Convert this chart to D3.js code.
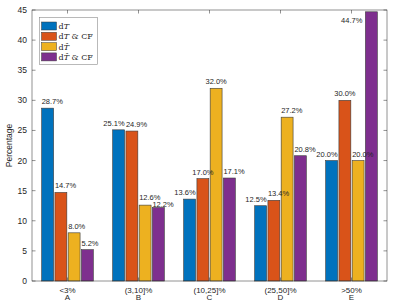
<!DOCTYPE html>
<html>
<head>
<meta charset="utf-8">
<script src="https://cdn.jsdelivr.net/npm/d3@7/dist/d3.min.js"></script>
<style>
body { margin: 0; background: #fff; }
svg { display: block; }
text { font-family: "Liberation Sans", Arial, sans-serif; fill: #262626; }
</style>
</head>
<body>
<div id="chart"></div>
<script>
// categories
var groups = ["A", "B", "C", "D", "E"];
var ranges = ["<3%", "(3,10]%", "(10,25]%", "(25,50]%", ">50%"];
var keys = ["dT", "dTcf", "dThat", "dThatcf"];

// series values (percent)
var dT      = [28.7, 25.1, 13.6, 12.5, 20.0];
var dTcf    = [14.7, 24.9, 17.0, 13.4, 30.0];
var dThat   = [8.0, 12.6, 32.0, 27.2, 20.0];
var dThatcf = [5.2, 12.2, 17.1, 20.8, 44.7];

var yTicks = [0, 5, 10, 15, 20, 25, 30, 35, 40, 45];

// how each value label sits against its bar
var labelAlign = {
    dT:      ["start", "end", "end", "end", "end"],
    dTcf:    ["start", "start", "middle", "start", "middle"],
    dThat:   ["start", "start", "middle", "start", "start"],
    dThatcf: ["start", "start", "start", "start", "start"]
};

var values = { dT: dT, dTcf: dTcf, dThat: dThat, dThatcf: dThatcf };
var color = d3.scaleOrdinal()
    .domain(keys)
    .range(["#0072BD", "#D95319", "#EDB120", "#7E2F8E"]);

var width = 399,
    height = 302,
    pLeft = 32, pRight = 387, pTop = 10, pBottom = 281;

var svg = d3.select("#chart").append("svg")
    .attr("width", width)
    .attr("height", height);

var x0 = d3.scaleBand()
    .domain(groups)
    .range([pLeft, pRight])
    .paddingInner(0.273)
    .paddingOuter(0.1365);

var x1 = d3.scaleBand()
    .domain(keys)
    .range([0, x0.bandwidth()])
    .paddingInner(0.1);

var y = d3.scaleLinear()
    .domain([0, 45])
    .range([pBottom, pTop]);

var rows = groups.map(function (g, i) {
    return { group: g, range: ranges[i], i: i };
});

function barsOf(d) {
    return keys.map(function (k) {
        return { key: k, value: values[k][d.i], align: labelAlign[k][d.i] };
    });
}

// bars
var gGroup = svg.selectAll("g.grp")
    .data(rows)
    .enter().append("g")
    .attr("class", "grp")
    .attr("transform", function (d) { return "translate(" + x0(d.group) + ",0)"; });

gGroup.selectAll("rect")
    .data(barsOf)
    .enter().append("rect")
    .attr("x", function (d) { return x1(d.key); })
    .attr("y", function (d) { return y(d.value); })
    .attr("width", x1.bandwidth())
    .attr("height", function (d) { return y(0) - y(d.value); })
    .attr("fill", function (d) { return color(d.key); })
    .attr("stroke", "#3a3a3a")
    .attr("stroke-width", 0.6);

// value labels, drawn over all bars
var gLab = svg.selectAll("g.lab")
    .data(rows)
    .enter().append("g")
    .attr("class", "lab")
    .attr("transform", function (d) { return "translate(" + x0(d.group) + ",0)"; });

// label goes beside the bar when there is no room above it
function noRoom(d) { return y(d.value) - 11 < pTop; }

gLab.selectAll("text")
    .data(barsOf)
    .enter().append("text")
    .attr("font-size", 7.5)
    .attr("text-anchor", function (d) {
        if (noRoom(d)) return "end";
        return d.align;
    })
    .attr("x", function (d) {
        var x = x1(d.key);
        if (noRoom(d)) return x - 3;
        if (d.align === "end") return x + x1.bandwidth();
        if (d.align === "middle") return x + x1.bandwidth() / 2;
        return x;
    })
    .attr("y", function (d) {
        if (noRoom(d)) return y(d.value) + 11;
        return y(d.value) - 4;
    })
    .text(function (d) { return d.value.toFixed(1) + "%"; });

// stack two labels when they collide inside a group
gLab.each(function () {
    var prev = null, prevNode = null;
    d3.select(this).selectAll("text").each(function (d) {
        var b = this.getBBox();
        if (prev && b.x < prev.x + prev.width && b.y < prev.y + prev.height && b.y + b.height > prev.y) {
            var base = y(d.value) - 0.8;
            d3.select(this).attr("y", base);
            d3.select(prevNode).attr("y", Math.min(+d3.select(prevNode).attr("y"), base - 6.8));
            b = this.getBBox();
        }
        prev = b;
        prevNode = this;
    });
});

// axes box
var axisColor = "#262626";
svg.append("rect")
    .attr("x", pLeft).attr("y", pTop)
    .attr("width", pRight - pLeft).attr("height", pBottom - pTop)
    .attr("fill", "none")
    .attr("stroke", axisColor)
    .attr("stroke-width", 0.5);

var tickLen = 3.5;
svg.selectAll("line.ytl").data(yTicks).enter().append("line")
    .attr("x1", pLeft).attr("x2", pLeft + tickLen)
    .attr("y1", function (d) { return y(d); }).attr("y2", function (d) { return y(d); })
    .attr("stroke", axisColor).attr("stroke-width", 0.5);
svg.selectAll("line.ytr").data(yTicks).enter().append("line")
    .attr("x1", pRight).attr("x2", pRight - tickLen)
    .attr("y1", function (d) { return y(d); }).attr("y2", function (d) { return y(d); })
    .attr("stroke", axisColor).attr("stroke-width", 0.5);
svg.selectAll("text.ylab").data(yTicks).enter().append("text")
    .attr("x", pLeft - 5)
    .attr("y", function (d) { return y(d) + 3; })
    .attr("text-anchor", "end")
    .attr("font-size", 8.5)
    .text(function (d) { return d; });

svg.selectAll("line.xtb").data(groups).enter().append("line")
    .attr("x1", function (d) { return x0(d) + x0.bandwidth() / 2; })
    .attr("x2", function (d) { return x0(d) + x0.bandwidth() / 2; })
    .attr("y1", pBottom).attr("y2", pBottom - tickLen)
    .attr("stroke", axisColor).attr("stroke-width", 0.5);
svg.selectAll("line.xtt").data(groups).enter().append("line")
    .attr("x1", function (d) { return x0(d) + x0.bandwidth() / 2; })
    .attr("x2", function (d) { return x0(d) + x0.bandwidth() / 2; })
    .attr("y1", pTop).attr("y2", pTop + tickLen)
    .attr("stroke", axisColor).attr("stroke-width", 0.5);

var xl = svg.selectAll("text.xlab").data(rows).enter().append("text")
    .attr("text-anchor", "middle")
    .attr("font-size", 8)
    .attr("x", function (d) { return x0(d.group) + x0.bandwidth() / 2; })
    .attr("y", 292.5);
xl.append("tspan").text(function (d) { return d.range; });
xl.append("tspan")
    .attr("x", function (d) { return x0(d.group) + x0.bandwidth() / 2; })
    .attr("y", 300)
    .text(function (d) { return d.group; });

svg.append("text")
    .attr("transform", "translate(12," + ((pTop + pBottom) / 2) + ") rotate(-90)")
    .attr("text-anchor", "middle")
    .attr("font-size", 8.5)
    .text("Percentage");

// legend
var legend = svg.append("g");
legend.append("rect")
    .attr("x", 39.5).attr("y", 17.5)
    .attr("width", 58).attr("height", 47)
    .attr("fill", "#fff")
    .attr("stroke", "#8a8a8a")
    .attr("stroke-width", 0.6);

var item = legend.selectAll("g.item").data(keys).enter().append("g")
    .attr("transform", function (d, i) { return "translate(0," + (26 + i * 10.3) + ")"; });
item.append("rect")
    .attr("x", 41.5).attr("y", -4)
    .attr("width", 15).attr("height", 8)
    .attr("fill", function (d) { return color(d); })
    .attr("stroke", "#3a3a3a")
    .attr("stroke-width", 0.5);

var lt = item.append("text")
    .attr("x", 58.5)
    .attr("y", 3)
    .attr("font-size", 8)
    .style("font-family", "'DejaVu Serif', 'Liberation Serif', serif");
lt.append("tspan").text("d");
lt.append("tspan")
    .attr("font-style", "italic")
    .text(function (d) { return (d === "dThat" || d === "dThatcf") ? "T\u0302" : "T"; });
lt.append("tspan")
    .text(function (d) { return (d === "dTcf" || d === "dThatcf") ? " & CF" : ""; });
</script>
</body>
</html>
